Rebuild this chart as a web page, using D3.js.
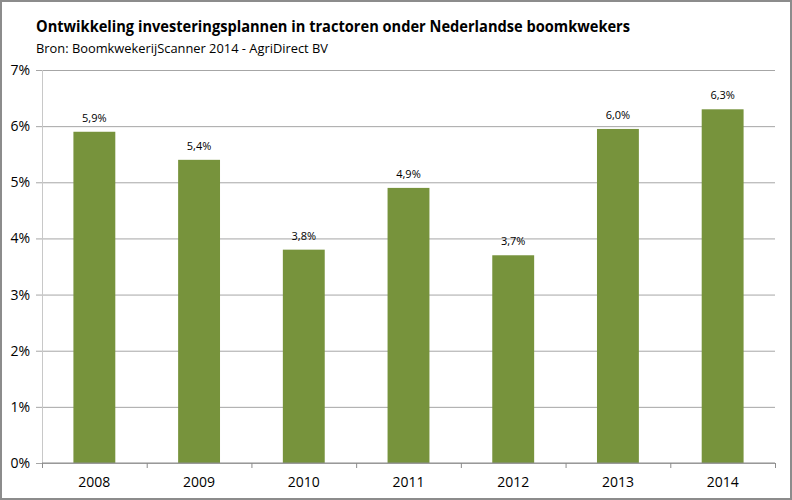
<!DOCTYPE html>
<html><head><meta charset="utf-8">
<script src="https://cdn.jsdelivr.net/npm/d3@7"></script>
<style>body{margin:0;background:#fff}svg{display:block}text{font-family:"Open Sans",sans-serif;fill:#000}</style>
</head><body><svg id="c" width="792" height="500"></svg>
<script>
const categories = ["2008","2009","2010","2011","2012","2013","2014"];
const values = [5.9, 5.4, 3.8, 4.9, 3.7, 5.95, 6.3];
const yTicks = [0,1,2,3,4,5,6,7];
const title = "Ontwikkeling investeringsplannen in tractoren onder Nederlandse boomkwekers";
const subtitle = "Bron: BoomkwekerijScanner 2014 - AgriDirect BV";

const svg = d3.select("#c");
svg.append("rect").attr("x",1).attr("y",1).attr("width",790).attr("height",498).attr("fill","#fff").attr("stroke","#8c8c8c").attr("stroke-width",2);

const L=42, R=775, T=70, B=463;
const x = d3.scaleBand().domain(categories).range([L,R]).paddingInner(0.6).paddingOuter(0.3);
const y = d3.scaleLinear().domain([0,7]).range([B,T]);

svg.append("text").attr("x",36).attr("y",32).attr("font-size",16).attr("font-weight","bold").attr("textLength",594).attr("lengthAdjust","spacingAndGlyphs").text(title);
svg.append("text").attr("x",36).attr("y",53).attr("font-size",13.5).attr("textLength",292).attr("lengthAdjust","spacingAndGlyphs").text(subtitle);

// grid
const yAxis = d3.axisLeft(y).tickValues(yTicks).tickSize(-(R-L)).tickFormat(d=>d+"%").tickPadding(12);
const gy = svg.append("g").attr("transform",`translate(${L},0)`).call(yAxis);
gy.select(".domain").remove();
gy.selectAll(".tick line").attr("stroke","#a6a6a6").attr("x1",-6).attr("x2",R-L);
gy.selectAll(".tick text").attr("font-size",14).attr("font-family","'Open Sans',sans-serif").attr("fill","#000");
svg.append("line").attr("x1",L+0.5).attr("x2",L+0.5).attr("y1",T).attr("y2",B).attr("stroke","#c8c8c8");

// bars
svg.selectAll("rect.bar").data(values).join("rect").attr("class","bar")
  .attr("x",(d,i)=>x(categories[i])).attr("width",x.bandwidth())
  .attr("y",d=>y(d)).attr("height",d=>B-y(d)).attr("fill","#77933c");

// x axis
const step = x.step();
const gx = svg.append("g").attr("transform",`translate(0,${B})`);
gx.append("line").attr("x1",L).attr("x2",R).attr("stroke","#8c8c8c");
const bounds = d3.range(categories.length+1).map(i=>L+i*(R-L)/categories.length);
gx.selectAll("line.tk").data(bounds).join("line").attr("class","tk").attr("x1",d=>d+0.5).attr("x2",d=>d+0.5).attr("y1",0).attr("y2",5).attr("stroke","#8c8c8c");
gx.selectAll("text").data(categories).join("text").attr("x",d=>x(d)+x.bandwidth()/2).attr("y",24).attr("text-anchor","middle").attr("font-size",14).text(d=>d);

// labels
const fmt = d3.format(".1f");
svg.selectAll("text.lbl").data(values).join("text").attr("class","lbl")
  .attr("x",(d,i)=>x(categories[i])+x.bandwidth()/2).attr("y",d=>y(d)-10)
  .attr("text-anchor","middle").attr("font-size",11)
  .text(d=>fmt(Math.round(d*10)/10).replace(".",",")+"%");
</script></body></html>
